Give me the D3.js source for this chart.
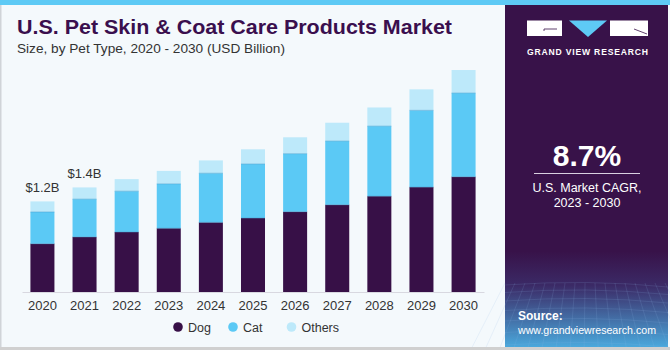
<!DOCTYPE html>
<html><head><meta charset="utf-8">
<script src="https://cdn.jsdelivr.net/npm/d3@7"></script>
<style>body{margin:0;padding:0;background:#fff}svg{display:block}</style>
</head><body>
<script>
const years = ["2020","2021","2022","2023","2024","2025","2026","2027","2028","2029","2030"];
const dog = [0.64,0.73,0.795,0.845,0.923,0.98,1.064,1.156,1.27,1.39,1.527];
const cat = [0.42,0.50,0.54,0.587,0.65,0.715,0.768,0.843,0.927,1.016,1.108];
const others = [0.14,0.155,0.16,0.172,0.17,0.195,0.217,0.243,0.247,0.278,0.305];
const seriesNames = ["Dog","Cat","Others"];
const colors = ["#371047","#5bc9f5","#bde9fa"];
const valueLabels = [{year:"2020",text:"$1.2B"},{year:"2021",text:"$1.4B"}];

const W=670,H=350;
const FF="Liberation Sans, Arial, sans-serif";
const svg=d3.select("body").append("svg").attr("width",W).attr("height",H);
// backgrounds
svg.append("rect").attr("x",0).attr("y",0).attr("width",W).attr("height",H).attr("fill","#f4f9fc");
svg.append("rect").attr("x",0).attr("y",0).attr("width",W).attr("height",5).attr("fill","#5ecaf5");
svg.append("rect").attr("x",0).attr("y",5).attr("width",1.5).attr("height",H-5).attr("fill","#d0d4d8");
svg.append("rect").attr("x",0).attr("y",347).attr("width",W).attr("height",3).attr("fill","#d0d0d0");

// right panel
const defs=svg.append("defs");
const g1=defs.append("linearGradient").attr("id","pg").attr("x1",0).attr("y1",0).attr("x2",0).attr("y2",1);
g1.append("stop").attr("offset","0").attr("stop-color","#381249");
g1.append("stop").attr("offset","0.72").attr("stop-color","#381249");
g1.append("stop").attr("offset","0.82").attr("stop-color","#3b2a66");
g1.append("stop").attr("offset","1").attr("stop-color","#4aa8dc");
svg.append("rect").attr("x",505).attr("y",5).attr("width",163).attr("height",342).attr("fill","url(#pg)");
// grid texture
const grid=svg.append("g").attr("stroke","#8fb6e3").attr("stroke-opacity",0.25).attr("stroke-width",0.6).attr("fill","none");
for(let i=0;i<9;i++){const yy=285+i*7+i*i*0.5;grid.append("path").attr("d",`M505,${yy} Q587,${yy-6} 668,${yy+2}`);}
for(let i=0;i<18;i++){const xx=505+i*10;grid.append("path").attr("d",`M${xx},283 L${xx+(xx-587)*0.4},347`);}

// logo
const logo=svg.append("g");
logo.append("rect").attr("x",527).attr("y",20.5).attr("width",35).attr("height",15.5).attr("fill","#ffffff");
logo.append("path").attr("d","M544,31 L544,29 L557,29").attr("stroke","#381249").attr("stroke-width",0.8).attr("fill","none");
logo.append("path").attr("d","M569,20.5 L607,20.5 L588,37 Z").attr("fill","#5ecaf5");
logo.append("rect").attr("x",610).attr("y",20.5).attr("width",38).attr("height",15.5).attr("fill","#ffffff");
logo.append("path").attr("d","M634,29 L647,34").attr("stroke","#381249").attr("stroke-width",0.8);
svg.append("text").attr("x",527).attr("y",55).attr("fill","#fff")
  .attr("font-family",FF).attr("font-weight","bold").attr("font-size",8.6)
  .attr("textLength",121).attr("lengthAdjust","spacing").text("GRAND VIEW RESEARCH");

svg.append("text").attr("x",587).attr("y",166).attr("text-anchor","middle").attr("fill","#fff")
  .attr("font-family",FF).attr("font-weight","bold").attr("font-size",30).text("8.7%");
svg.append("line").attr("x1",534).attr("x2",640).attr("y1",173.5).attr("y2",173.5).attr("stroke","#d8d0e0").attr("stroke-width",1);
svg.append("text").attr("x",587).attr("y",192).attr("text-anchor","middle").attr("fill","#fff")
  .attr("font-family",FF).attr("font-size",12.5).text("U.S. Market CAGR,");
svg.append("text").attr("x",587).attr("y",207).attr("text-anchor","middle").attr("fill","#fff")
  .attr("font-family",FF).attr("font-size",12.5).text("2023 - 2030");
svg.append("text").attr("x",518).attr("y",320).attr("fill","#fff")
  .attr("font-family",FF).attr("font-weight","bold").attr("font-size",12).text("Source:");
svg.append("text").attr("x",518).attr("y",334).attr("fill","#fff")
  .attr("font-family",FF).attr("font-size",11.5)
  .attr("textLength",138).attr("lengthAdjust","spacingAndGlyphs").text("www.grandviewresearch.com");

// title
svg.append("text").attr("x",17).attr("y",34).attr("fill","#3a0f4e")
  .attr("font-family",FF).attr("font-weight","bold").attr("font-size",21)
  .attr("textLength",435).attr("lengthAdjust","spacingAndGlyphs").text("U.S. Pet Skin & Coat Care Products Market");
svg.append("text").attr("x",17).attr("y",53).attr("fill","#333")
  .attr("font-family",FF).attr("font-size",13.5)
  .attr("textLength",268).attr("lengthAdjust","spacingAndGlyphs").text("Size, by Pet Type, 2020 - 2030 (USD Billion)");

// chart
const x=d3.scaleBand().domain(years).range([22,484]).paddingInner(0.43).paddingOuter(0.2);
const y=d3.scaleLinear().domain([0,3]).range([292,65.5]);
const data=years.map((yr,i)=>({year:yr,Dog:dog[i],Cat:cat[i],Others:others[i]}));
const stack=d3.stack().keys(seriesNames)(data);
svg.append("g").selectAll("g").data(stack).join("g").attr("fill",(d,i)=>colors[i])
  .selectAll("rect").data(d=>d).join("rect")
  .attr("x",d=>x(d.data.year)).attr("width",x.bandwidth())
  .attr("y",d=>y(d[1])).attr("height",d=>y(d[0])-y(d[1]));
svg.append("g").selectAll("g").data(stack.slice(0,2)).join("g")
  .selectAll("line").data(d=>d).join("line")
  .attr("x1",d=>x(d.data.year)).attr("x2",d=>x(d.data.year)+x.bandwidth())
  .attr("y1",d=>y(d[1])).attr("y2",d=>y(d[1])).attr("stroke","#4a9fd0").attr("stroke-opacity",0.5).attr("stroke-width",1);

const xAxis=svg.append("g").attr("transform","translate(0,292)").call(d3.axisBottom(x).tickSize(0).tickPadding(9));
xAxis.select(".domain").attr("stroke","#d8d8e0");
xAxis.selectAll("text").attr("font-family",FF).attr("font-size",13).attr("fill","#333");

const totals=years.map((yr,i)=>dog[i]+cat[i]+others[i]);
svg.append("g").selectAll("text").data(valueLabels).join("text")
  .attr("x",d=>x(d.year)+x.bandwidth()/2)
  .attr("y",d=>y(totals[years.indexOf(d.year)])-9)
  .attr("text-anchor","middle").attr("fill","#333")
  .attr("font-family",FF).attr("font-size",13).text(d=>d.text);

// legend
const legX=[178,233,291.5];
const leg=svg.append("g");
seriesNames.forEach((n,i)=>{
  leg.append("circle").attr("cx",legX[i]).attr("cy",327).attr("r",4.8).attr("fill",colors[i]);
  leg.append("text").attr("x",legX[i]+10).attr("y",331.5).attr("fill","#333")
    .attr("font-family",FF).attr("font-size",12.5).text(n);
});
</script>
</body></html>
